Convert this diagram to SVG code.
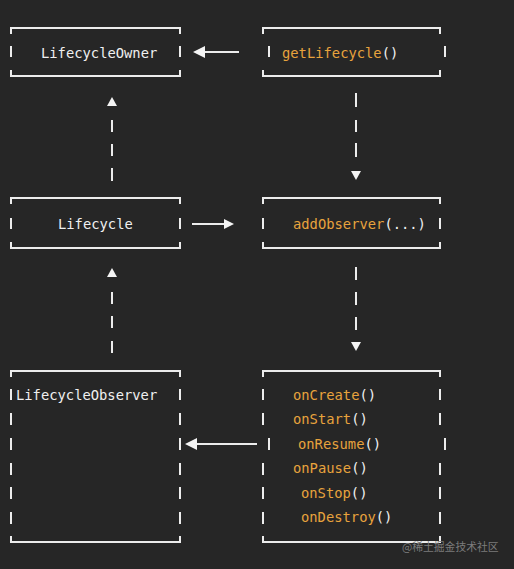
<svg xmlns="http://www.w3.org/2000/svg" width="514" height="569" viewBox="0 0 514 569">
<style>
.ln{stroke:#ececec;stroke-width:2;fill:none}
.ah{fill:#f4f4f4}
text{font-family:"DejaVu Sans Mono","Liberation Mono",monospace;font-size:13.8px}
.w{fill:#f0f0f0}
.o{fill:#e8a33d}
.t{stroke-width:0.25px}
.wm{font-family:"Noto Sans CJK SC",sans-serif;font-size:10.8px;fill:#7c7c7c}
</style>
<rect width="514" height="569" fill="#262626"/>
<g id="lifecycleOwner">
<path class="ln" d="M11,34V28H180V34M11,70V76H180V70M11,46V57M180,46V57"/>
<text class="w" x="41" y="57.5">LifecycleOwner</text>
</g>
<g id="getLifecycle">
<path class="ln" d="M263,34V28H440V34M263,70V76H440V70M269,46V57M445,46V57"/>
<text x="282" y="57.5"><tspan class="o">getLifecycle</tspan><tspan class="w">()</tspan></text>
</g>
<g id="lifecycle">
<path class="ln" d="M11,204V198H180V204M11,242V248H180V242M11,218V229M180,218V229"/>
<text class="w" x="58" y="228.5">Lifecycle</text>
</g>
<g id="addObserver">
<path class="ln" d="M263,204V198H440V204M263,242V248H440V242M263,218V229M440,218V229"/>
<text x="293" y="228.5"><tspan class="o">addObserver</tspan><tspan class="w">(...)</tspan></text>
</g>
<g id="lifecycleObserver">
<path class="ln" d="M11,377V371H180V377M11,536V542H180V536M11,389V400M180,389V400M11,413V425M180,413V425M11,438V450M180,438V450M11,463V475M180,463V475M11,487V499M180,487V499M11,512V524M180,512V524"/>
<text class="w" x="16" y="399.5">LifecycleObserver</text>
</g>
<g id="callbacks">
<path class="ln" d="M263,377V371H440V377M263,536V542H440V536M263,389V400M440,389V400M263,413V425M440,413V425M269,438V450M445,438V450M263,463V475M440,463V475M263,487V499M440,487V499M263,512V524M440,512V524"/>
<text x="293" y="399.5"><tspan class="o">onCreate</tspan><tspan class="w">()</tspan></text>
<text x="293" y="424"><tspan class="o">onStart</tspan><tspan class="w">()</tspan></text>
<text x="298" y="448.5"><tspan class="o">onResume</tspan><tspan class="w">()</tspan></text>
<text x="293" y="473"><tspan class="o">onPause</tspan><tspan class="w">()</tspan></text>
<text x="301" y="497.5"><tspan class="o">onStop</tspan><tspan class="w">()</tspan></text>
<text x="301" y="522"><tspan class="o">onDestroy</tspan><tspan class="w">()</tspan></text>
</g>
<g id="connectors">
<path class="ln" d="M205,52H239"/>
<polygon class="ah" points="193,52 205,46 205,58"/>
<path class="ln" d="M192,224H225"/>
<polygon class="ah" points="234,224 224,219 224,229"/>
<path class="ln" d="M197,444H257"/>
<polygon class="ah" points="185,444 197,438 197,450"/>
<path class="ln" d="M112,120V132M112,144V156M112,168V181"/>
<polygon class="ah" points="112,97 107,106 117,106"/>
<path class="ln" d="M112,292V304M112,316V328M112,341V353"/>
<polygon class="ah" points="112,268 107,277 117,277"/>
<path class="ln" d="M356,93V107M356,120V132M356,143V157"/>
<polygon class="ah" points="351,171 361,171 356,180"/>
<path class="ln" d="M356,267V280M356,292V305M356,317V330"/>
<polygon class="ah" points="351,342 361,342 356,351"/>
</g>
<text class="wm" x="402" y="551">@稀土掘金技术社区</text>
</svg>
